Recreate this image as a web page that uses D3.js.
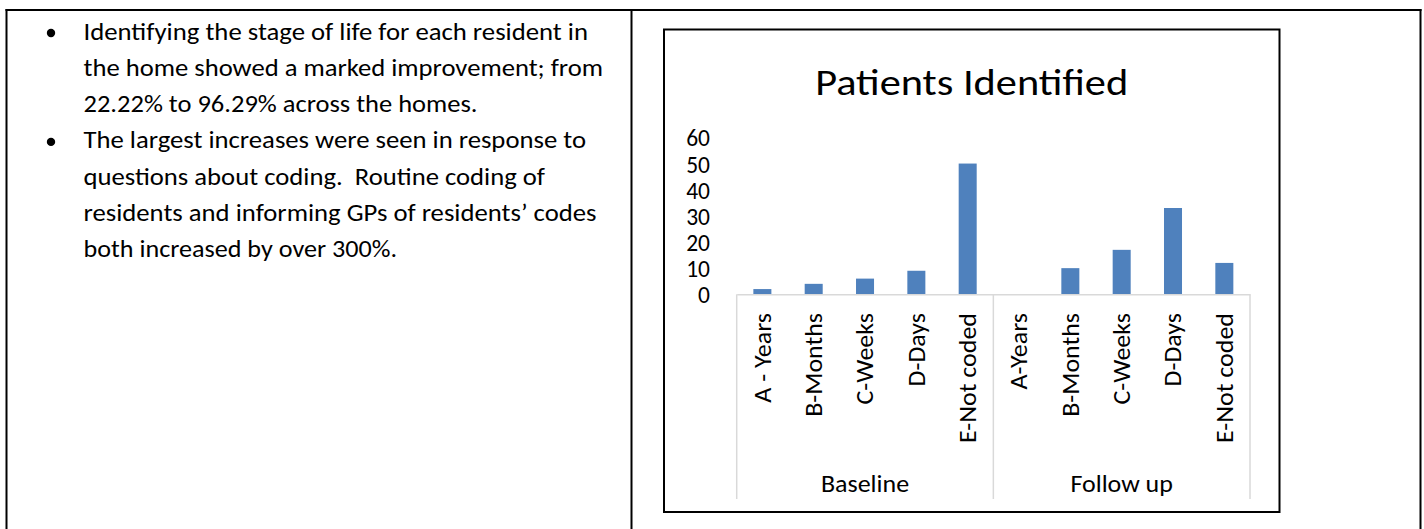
<!DOCTYPE html>
<html>
<head>
<meta charset="utf-8">
<script src="https://cdn.jsdelivr.net/npm/d3@7"></script>
<style>
  html, body { margin: 0; padding: 0; background: #ffffff; }
  svg { display: block; }
  text { font-family: Carlito, Lato, "Open Sans", sans-serif; fill: #000; }
</style>
</head>
<body>
<svg id="chart" width="1424" height="529"></svg>
<script>
// ---------- data ----------
const groups = ["Baseline", "Follow up"];
const baselineCategories = ["A - Years", "B-Months", "C-Weeks", "D-Days", "E-Not coded"];
const followUpCategories = ["A-Years", "B-Months", "C-Weeks", "D-Days", "E-Not coded"];
const baselineValues = [2, 4, 6, 9, 50];
const followUpValues = [0, 10, 17, 33, 12];
const yTickValues = [0, 10, 20, 30, 40, 50, 60];
const chartTitle = "Patients Identified";
const bulletParagraphs = [
  ["Identifying the stage of life for each resident in",
   "the home showed a marked improvement; from",
   "22.22% to 96.29% across the homes."],
  ["The largest increases were seen in response to",
   "questions about coding.  Routine coding of",
   "residents and informing GPs of residents\u2019 codes",
   "both increased by over 300%."]
];

// ---------- build table ----------
const rows = [];
groups.forEach((g, gi) => {
  const cats = gi === 0 ? baselineCategories : followUpCategories;
  const vals = gi === 0 ? baselineValues : followUpValues;
  cats.forEach((c, ci) => rows.push({ group: g, cat: c, value: vals[ci], key: g + "|" + c }));
});

const svg = d3.select("#chart");

// ---------- page table borders ----------
const border = svg.append("g").attr("stroke", "#000").attr("stroke-width", 2);
border.append("line").attr("x1", 5.5).attr("x2", 1421.5).attr("y1", 10).attr("y2", 10);
[6.5, 631.5, 1420.5].forEach(xx =>
  border.append("line").attr("x1", xx).attr("x2", xx).attr("y1", 9).attr("y2", 529));

// ---------- bullet text ----------
const lineTargets = [504.5, 519.5, 394, 502.5, 461.5, 513, 313.5];
const textX = 83.5, baseline0 = 39.5, lineStep = 36.3;
let li = 0;
const bodyG = svg.append("g");
bulletParagraphs.forEach(par => {
  par.forEach((line, k) => {
    const yy = baseline0 + li * lineStep;
    if (k === 0) {
      bodyG.append("circle").attr("cx", 51).attr("cy", yy - 6.5).attr("r", 4.2).attr("fill", "#000");
    }
    bodyG.append("text")
      .attr("x", textX).attr("y", yy)
      .style("font-size", "24px")
      .style("white-space", "pre")
      .attr("textLength", lineTargets[li])
      .attr("lengthAdjust", "spacingAndGlyphs")
      .text(line);
    li++;
  });
});

// ---------- chart box ----------
svg.append("rect")
  .attr("x", 664).attr("y", 29.5).attr("width", 615.5).attr("height", 482.5)
  .attr("fill", "none").attr("stroke", "#000").attr("stroke-width", 2);

svg.append("text")
  .attr("x", 971.7).attr("y", 95)
  .attr("text-anchor", "middle")
  .style("font-size", "36px")
  .attr("textLength", 313)
  .attr("lengthAdjust", "spacingAndGlyphs")
  .text(chartTitle);

// ---------- scales ----------
const pInner = 0.649;
const x = d3.scaleBand()
  .domain(rows.map(d => d.key))
  .range([736.7, 1250])
  .paddingInner(pInner)
  .paddingOuter(pInner / 2);
const y = d3.scaleLinear().domain([0, 60]).range([294.3, 137.4]);

// ---------- y axis ----------
const yAxis = svg.append("g")
  .attr("transform", `translate(${x.range()[0]},0)`)
  .call(d3.axisLeft(y).tickValues(yTickValues).tickSize(0).tickPadding(26.7).tickFormat(d3.format("d")));
yAxis.select(".domain").remove();
yAxis.selectAll("text")
  .style("font-size", "23.5px")
  .style("font-family", "Carlito, Lato, sans-serif")
  .attr("fill", "#000")
  .attr("dy", "0.36em");

// ---------- bars ----------
svg.append("g").selectAll("rect")
  .data(rows)
  .join("rect")
  .attr("x", d => x(d.key))
  .attr("width", x.bandwidth())
  .attr("y", d => y(d.value))
  .attr("height", d => y(0) - y(d.value))
  .attr("fill", "#4F81BD");

// ---------- x axis ----------
const xAxis = svg.append("g")
  .attr("transform", `translate(0,${y(0)})`)
  .call(d3.axisBottom(x).tickSize(0).tickFormat(d => d.split("|")[1]));
xAxis.select(".domain").attr("stroke", "#d9d9d9").attr("stroke-width", 1.5);
const tickTexts = xAxis.selectAll(".tick text")
  .attr("transform", "rotate(-90)")
  .attr("x", -(313 - 294.3))
  .attr("y", 0)
  .attr("dy", "0.35em")
  .attr("text-anchor", "end")
  .style("font-size", "23.5px")
  .style("font-family", "Carlito, Lato, sans-serif")
  .style("white-space", "pre")
  .attr("fill", "#000");

// stretch factor so label lengths follow the reference font metrics
let refLen = 1;
tickTexts.each(function (d) { if (d === "Baseline|E-Not coded") refLen = this.getComputedTextLength(); });
const kx = 130 / refLen;
tickTexts.each(function () {
  const L = this.getComputedTextLength();
  d3.select(this).attr("textLength", L * kx).attr("lengthAdjust", "spacingAndGlyphs");
});

// group separators
const step = x.step();
const sepXs = [];
groups.forEach(g => {
  const first = rows.find(r => r.group === g);
  sepXs.push(x(first.key) - step * pInner / 2);
});
sepXs.push(x.range()[1]);
svg.append("g").selectAll("line")
  .data(sepXs)
  .join("line")
  .attr("x1", d => d).attr("x2", d => d)
  .attr("y1", y(0)).attr("y2", 499)
  .attr("stroke", "#d9d9d9").attr("stroke-width", 1.5);

// group labels
const groupG = svg.append("g");
groups.forEach(g => {
  const keys = rows.filter(r => r.group === g).map(r => x(r.key) + x.bandwidth() / 2);
  const cx = d3.mean(keys);
  const t = groupG.append("text")
    .attr("x", cx).attr("y", 491.5)
    .attr("text-anchor", "middle")
    .style("font-size", "23.5px")
    .text(g);
  const L = t.node().getComputedTextLength();
  t.attr("textLength", L * kx).attr("lengthAdjust", "spacingAndGlyphs");
});
</script>
</body>
</html>
